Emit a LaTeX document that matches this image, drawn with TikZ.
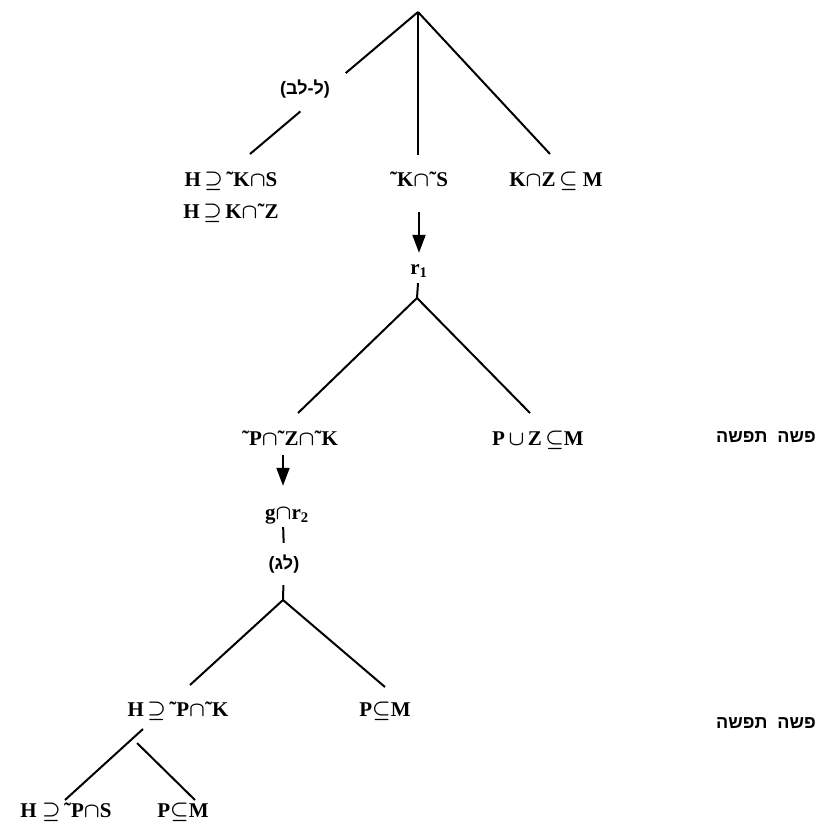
\documentclass[tikz,border=0pt]{standalone}
\usepackage{fontspec}
\setmainfont{Liberation Serif}
\newfontfamily\hebfont[Script=Hebrew]{Liberation Sans}
\TeXXeTstate=1
\usetikzlibrary{arrows.meta,calc}
\newcommand\Mcap{\ensuremath{\cap}}
\newcommand\Mcup{\ensuremath{\cup}}
\newcommand\Msupe{\ensuremath{\supseteq}}
\newcommand\Msube{\ensuremath{\subseteq}}
\newcommand\Tl{\char"02DC}
\begin{document}
\begin{tikzpicture}[x=1pt,y=-1pt,
  lab/.style={font=\fontsize{21}{24}\selectfont\bfseries\boldmath, inner sep=0pt, text height=14pt, text depth=2pt},
  heb/.style={font=\hebfont\fontsize{18}{22}\selectfont\bfseries, inner sep=0pt, text height=14pt, text depth=2pt},
  edge/.style={line width=2pt},
  arr/.style={line width=2pt,-{Triangle[length=18pt,width=13pt]}}]
\useasboundingbox (0,0) rectangle (816,831);
% level 0
\coordinate (root) at (418,12);
\node[heb] (l1) at (305,88) {\beginR(ל-לב)\endR};
% level 1
\node[lab] (n1) at (231,180) {H\,\Msupe\,\Tl K\Mcap S};
\node[lab] (n1b) at (231,212) {H\,\Msupe\,K\Mcap\Tl Z};
\node[lab] (n2) at (419,180) {\Tl K\Mcap\Tl S};
\node[lab] (n3) at (556,180) {K\Mcap Z\,\Msube\ M};
\coordinate (e1) at (250,154);
\coordinate (e2) at (418,155);
\coordinate (e3) at (550,154);
\draw[edge] (root) -- ($(root)!0.43!(e1)$);
\draw[edge] ($(root)!0.70!(e1)$) -- (e1);
\draw[edge] (root) -- (e2);
\draw[edge] (root) -- (e3);
% r1
\node[lab] (r1) at (419,268) {r\textsubscript{1}};
\draw[arr] (n2) -- (r1) [shorten <=24pt, shorten >=7pt];
\coordinate (a2) at (417,298);
\draw[edge] (r1) -- (a2) [shorten <=7pt];
\coordinate (e21) at (298,413);
\coordinate (e22) at (530,413);
\draw[edge] (a2) -- (e21);
\draw[edge] (a2) -- (e22);
% level 2
\node[lab] (n4) at (290,439) {\Tl P\Mcap\Tl Z\Mcap\Tl K};
\node[lab] (n5) at (538,439) {P\,\Mcup\,Z\,\Msube M};
\node[heb] (h1) at (766,436) {\beginR פשה\ \ תפשה\endR};
% g r2
\node[lab] (g) at (287,513) {g\Mcap r\textsubscript{2}};
\draw[arr] ([xshift=-7pt]n4.south) -- ([xshift=-4pt]g.north) [shorten <=8pt, shorten >=19pt];
\node[heb] (l2) at (284,563) {\beginR(לג)\endR};
\draw[edge] ([xshift=-4pt]g.south) -- (l2.north) [shorten <=6pt, shorten >=12pt];
\coordinate (a3) at (283,600);
\draw[edge] (l2) -- (a3) [shorten <=14pt];
\coordinate (e31) at (190,685);
\coordinate (e32) at (385,687);
\draw[edge] (a3) -- (e31);
\draw[edge] (a3) -- (e32);
% level 3
\node[lab] (n6) at (178,710) {H\,\Msupe\,\Tl P\Mcap\Tl K};
\node[lab] (n7) at (385,710) {P\Msube M};
\node[heb] (h2) at (766,722) {\beginR פשה\ \ תפשה\endR};
% level 4
\coordinate (a4) at (143,729);
\coordinate (a4b) at (137,743);
\coordinate (e41) at (65,800);
\coordinate (e42) at (195,800);
\draw[edge] (a4) -- (e41);
\draw[edge] (a4b) -- (e42);
\node[lab] (n8) at (66,811) {H\ \Msupe\,\Tl P\Mcap S};
\node[lab] (n9) at (183,811) {P\Msube M};
\end{tikzpicture}
\end{document}
